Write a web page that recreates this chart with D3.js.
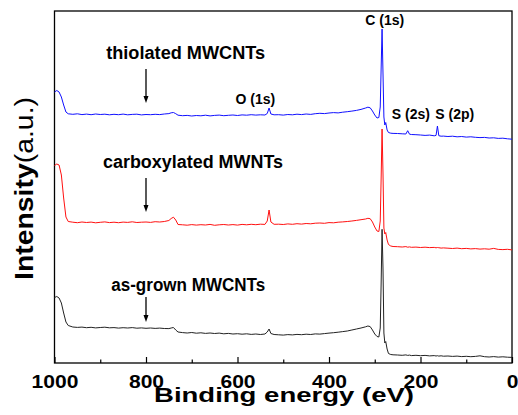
<!DOCTYPE html>
<html>
<head>
<meta charset="utf-8">
<script src="https://cdn.jsdelivr.net/npm/d3@7"></script>
<style>
  body { margin: 0; background: #fff; }
  text { font-family: "Liberation Sans", Arial, sans-serif; }
</style>
</head>
<body>
<div id="my_dataviz"></div>
<script>
// binding energy grid (eV), shared by the three spectra
var energy = [
  1000, 995, 990, 985, 980, 975, 970,
  960, 950, 940, 930, 920, 910, 900, 890, 880, 870, 860, 850, 840, 830, 820, 810, 800, 790, 780, 770, 760,
  750, 745, 740, 735, 730,
  720, 710, 700, 690, 680, 670, 660, 650, 640, 630, 620, 610, 600, 590, 580, 570, 560, 550,
  540, 535, 531, 527, 520,
  510, 500, 490, 480, 470, 460, 450, 440, 430, 420, 410, 400, 390, 380, 370, 360, 350, 340, 330,
  320, 315, 310, 305, 300, 295, 291, 288, 286, 284, 282, 280, 278, 276, 273, 270, 265, 260,
  250, 240, 232, 228, 224, 220, 210, 200, 190, 180, 170, 166, 163, 160, 155, 150,
  140, 130, 120, 110, 100, 90, 80, 70, 60, 50, 40, 30, 20, 10, 0
];

// intensities (a.u., offset stacked as in the figure)
var thiolated = [
  271, 272.5, 271, 266, 258, 251, 249.2,
  248.7, 249.2, 248.4, 248.9, 248.3, 249.0, 248.5, 248.8, 248.2, 248.7, 248.3, 248.9, 248.2, 248.6, 248.8, 248.1, 248.5, 248.3, 248.7, 248.4, 249.0,
  249.4, 250.2, 250.5, 249.3, 247.8,
  247.3, 247.6, 247.0, 247.5, 247.2, 247.8, 247.1, 247.6, 247.9, 247.3, 247.7, 248.0, 247.5, 248.1, 247.8, 248.3, 247.9, 248.2,
  248.0, 249.5, 255, 249.0, 248.2,
  248.3, 247.9, 248.5, 248.2, 248.8, 248.4, 249.0, 248.6, 249.3, 249.7, 249.4, 250.0, 250.4, 250.1, 250.8, 251.3, 251.9, 252.6, 253.6,
  255.0, 255.8, 255.2, 252.0, 248.0, 245.0, 245.5, 256, 295, 334, 290, 246, 238, 240.5, 233, 230.5, 229.8, 229.6,
  229.5, 229.2, 229.0, 232.3, 228.8, 228.5, 228.3, 228.0, 227.6, 227.9, 227.2, 227.6, 237, 227.3, 226.8, 226.9,
  226.5, 226.8, 226.2, 226.5, 225.9, 226.2, 225.7, 225.4, 225.6, 225.0, 225.2, 224.6, 224.8, 224.2, 223.8
];
var carboxylated = [
  197.5, 199, 198, 188, 165, 146, 141.5,
  140.8, 140.3, 141.0, 140.5, 140.9, 140.2, 140.7, 141.1, 140.4, 140.8, 140.3, 140.9, 140.6, 141.2, 140.5, 140.8, 141.0, 140.6, 141.3, 141.0, 141.5,
  142.5, 144.5, 145.8, 143.0, 138.5,
  138.2, 137.8, 138.4, 137.9, 138.3, 138.0, 138.6, 137.7, 138.2, 138.5, 138.0, 138.4, 137.9, 138.6, 138.2, 138.7, 138.3, 138.8,
  138.6, 142, 153, 141, 138.7,
  138.8, 138.5, 139.1, 138.7, 139.3, 138.9, 139.5, 139.2, 139.8, 140.0, 139.7, 140.4, 140.2, 140.8, 141.1, 141.5, 142.0, 142.6, 143.3,
  144.0, 144.7, 144.3, 141.0, 136.0, 132.0, 131.5, 142, 185, 234, 190, 135, 129, 130.5, 123, 118.5, 117, 116.5,
  116.3, 116.0, 116.4, 115.8, 116.1, 115.7, 115.9, 115.5, 115.8, 115.4, 115.6, 115.2, 115.5, 115.3, 114.9, 115.1,
  114.8, 114.5, 114.9, 114.3, 114.6, 114.1, 114.4, 113.9, 114.2, 113.8, 114.6, 113.6, 113.4, 113.7, 113.1
];
var asGrown = [
  65.5, 66.5, 65, 60, 50, 41, 37.5,
  36.0, 35.6, 35.9, 35.3, 35.7, 35.1, 35.5, 35.8, 35.2, 35.4, 34.9, 35.3, 35.0, 35.4, 34.8, 35.1, 34.7, 35.0, 34.6, 34.9, 34.5,
  34.4, 35.0, 35.5, 33.0, 31.0,
  30.4, 30.0, 30.5, 29.8, 30.2, 29.6, 30.0, 29.5, 29.9, 29.2, 29.6, 29.0, 29.3, 28.8, 29.2, 28.6, 29.0, 28.5,
  29.0, 31, 34, 29.5, 28.5,
  28.2, 27.9, 28.4, 28.1, 28.6, 28.3, 28.8, 28.5, 29.1, 28.9, 29.4, 29.9, 30.3, 30.8, 31.4, 32.0, 33.0, 34.0, 35.0,
  36.2, 37.0, 36.4, 33.0, 29.0, 26.5, 26.0, 35, 80, 133.7, 95, 30, 20, 21.5, 14, 9.5, 8.5, 8.2,
  8.0, 7.7, 8.1, 7.6, 7.9, 7.4, 7.7, 7.3, 7.6, 7.1, 7.4, 7.0, 7.3, 6.9, 7.2, 6.8,
  7.0, 6.6, 6.9, 6.4, 6.7, 6.3, 6.6, 7.2, 6.3, 6.0, 6.4, 5.9, 6.2, 5.8, 5.6
];

var seriesNames = ["as-grown MWCNTs", "carboxylated MWNTs", "thiolated MWCNTs"];
var seriesValues = [asGrown, carboxylated, thiolated];

var majorTicks = [1000, 800, 600, 400, 200, 0];
var minorTicks = [900, 700, 500, 300, 100];

// sample labels: name, energy of left edge, intensity of baseline; arrow at 800 eV
var sampleLabelEnergy = [876, 894, 887];
var sampleLabelLevel = [72, 195, 304];
var arrowEnergy = 800;
var arrowFrom = [66, 185, 294];
var arrowTo = [41, 151, 260];

// peak labels
var peakNames = ["O (1s)", "C (1s)", "S (2s)", "S (2p)"];
var peakLabelEnergy = [561, 278, 221, 125];
var peakLabelLevel = [259, 338, 244, 244];

var colors = ["#222222", "#ff1010", "#1010ff"];

var margin = {top: 11, right: 6, bottom: 52, left: 54.5},
    width = 518 - margin.left - margin.right,
    height = 415 - margin.top - margin.bottom;

var svg = d3.select("#my_dataviz")
  .append("svg")
    .attr("width", 518)
    .attr("height", 415)
  .append("g")
    .attr("transform", "translate(" + margin.left + "," + margin.top + ")");

var x = d3.scaleLinear()
  .domain([1000, 0])
  .range([0, width]);

var y = d3.scaleLinear()
  .domain([0, height])
  .range([height, 0]);

// minor ticks
svg.append("g")
  .attr("transform", "translate(0," + height + ")")
  .call(d3.axisBottom(x).tickValues(minorTicks).tickSize(-3.5).tickFormat(""))
  .call(function(g) { g.select(".domain").remove(); })
  .selectAll("line").attr("stroke-width", 1.2);

// major ticks + labels
var xAxis = svg.append("g")
  .attr("transform", "translate(0," + height + ")")
  .call(d3.axisBottom(x).tickValues(majorTicks).tickSize(-6).tickPadding(12.5).tickFormat(d3.format("d")));
xAxis.select(".domain").remove();
xAxis.selectAll("line").attr("stroke-width", 1.2);
xAxis.selectAll("text")
  .attr("font-family", "Liberation Sans, Arial, sans-serif")
  .attr("font-size", 18)
  .attr("font-weight", "bold")
  .attr("fill", "#000")
  .attr("transform", "scale(1.17,1)");

// frame
svg.append("rect")
  .attr("x", 0)
  .attr("y", 0)
  .attr("width", width)
  .attr("height", height)
  .attr("fill", "none")
  .attr("stroke", "#000")
  .attr("stroke-width", 1.3);

// spectra
var line = d3.line()
  .x(function(d, i) { return x(energy[i]); })
  .y(function(d) { return y(d); });

for (let s = 0; s < seriesValues.length; s++) {
  svg.append("path")
    .datum(seriesValues[s])
    .attr("fill", "none")
    .attr("stroke", colors[s])
    .attr("stroke-width", 1)
    .attr("stroke-linejoin", "round")
    .attr("d", line);
}

// sample labels and arrows
var labelLengths = [154, 180, 159];
for (let s = 0; s < seriesNames.length; s++) {
  svg.append("text")
    .attr("x", x(sampleLabelEnergy[s]))
    .attr("y", y(sampleLabelLevel[s]))
    .attr("font-size", 17.5)
    .attr("font-weight", "bold")
    .attr("textLength", labelLengths[s])
    .attr("lengthAdjust", "spacingAndGlyphs")
    .text(seriesNames[s]);

  var ax = x(arrowEnergy), y0 = y(arrowFrom[s]), y1 = y(arrowTo[s]);
  svg.append("line")
    .attr("x1", ax).attr("x2", ax)
    .attr("y1", y0).attr("y2", y1 - 6)
    .attr("stroke", "#000")
    .attr("stroke-width", 1.3);
  svg.append("path")
    .attr("d", "M" + (ax - 2.5) + "," + (y1 - 7) + "L" + (ax + 2.5) + "," + (y1 - 7) + "L" + ax + "," + y1 + "Z")
    .attr("fill", "#000");
}

// peak labels
for (let p = 0; p < peakNames.length; p++) {
  svg.append("text")
    .attr("x", x(peakLabelEnergy[p]))
    .attr("y", y(peakLabelLevel[p]))
    .attr("text-anchor", "middle")
    .attr("font-size", 14)
    .attr("font-weight", "bold")
    .text(peakNames[p]);
}

// axis titles
svg.append("text")
  .attr("x", 284 - margin.left)
  .attr("y", 401.7 - margin.top)
  .attr("text-anchor", "middle")
  .attr("font-size", 21)
  .attr("font-weight", "bold")
  .attr("textLength", 260)
  .attr("lengthAdjust", "spacingAndGlyphs")
  .text("Binding energy (eV)");

var yTitle = svg.append("text")
  .attr("transform", "translate(" + (33 - margin.left) + "," + (188.5 - margin.top) + ") rotate(-90)")
  .attr("text-anchor", "middle")
  .attr("font-size", 25)
  .attr("textLength", 183)
  .attr("lengthAdjust", "spacingAndGlyphs");
yTitle.append("tspan").attr("font-weight", "bold").text("Intensity");
yTitle.append("tspan").text("(a.u.)");
</script>
</body>
</html>
